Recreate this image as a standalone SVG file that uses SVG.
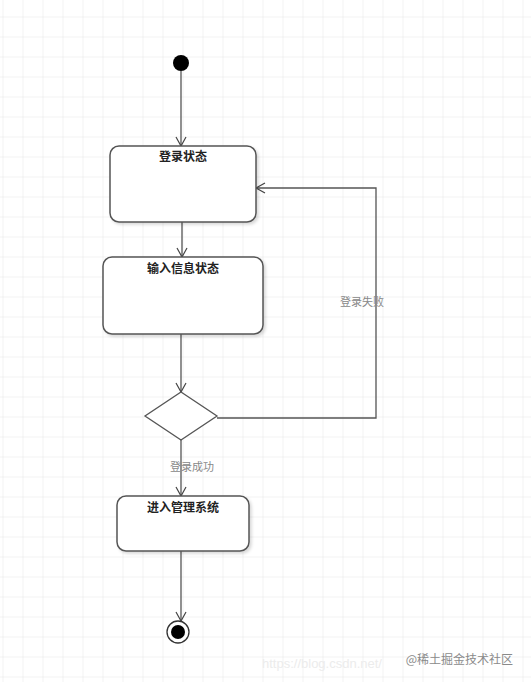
<svg xmlns="http://www.w3.org/2000/svg" width="531" height="682" viewBox="0 0 531 682">
<defs>
<pattern id="grid" x="2.5" y="16.5" width="20" height="20" patternUnits="userSpaceOnUse">
<path d="M0 0 H20 M0 0 V20" fill="none" stroke="#e6e6e6" stroke-width="1"/>
</pattern>
<filter id="sh" x="-10%" y="-10%" width="130%" height="130%">
<feDropShadow dx="2" dy="2" stdDeviation="1.5" flood-color="#000" flood-opacity="0.15"/>
</filter>
<marker id="arr" markerWidth="12" markerHeight="12" refX="10" refY="6" orient="auto" markerUnits="userSpaceOnUse">
<path d="M1 1 L10 6 L1 11" fill="none" stroke="#444" stroke-width="1.2"/>
</marker>
</defs>
<style>
.state{fill:#fff;stroke:#555;stroke-width:1.5;filter:url(#sh)}
.title{font-family:"Noto Sans CJK SC","Liberation Serif",serif;font-size:12px;font-weight:bold;fill:#222;text-anchor:middle}
.lbl{font-family:"Noto Sans CJK SC","Liberation Serif",serif;font-size:11px;fill:#888;text-anchor:middle}
.conn{fill:none;stroke:#555;stroke-width:1.3}
</style>
<rect width="531" height="682" fill="#fff"/>
<rect width="531" height="682" fill="url(#grid)"/>

<g id="connectors">
<path class="conn" d="M181 71 V146" marker-end="url(#arr)"/>
<path class="conn" d="M182 222 V257" marker-end="url(#arr)"/>
<path class="conn" d="M181 334 V392" marker-end="url(#arr)"/>
<path class="conn" d="M217 418 H376 V188 H256" marker-end="url(#arr)"/>
<path class="conn" d="M181 440 V496" marker-end="url(#arr)"/>
<path class="conn" d="M181 551 V621" marker-end="url(#arr)"/>
<text class="lbl" x="362" y="306">登录失败</text>
<text class="lbl" x="192" y="471">登录成功</text>
</g>

<g id="start">
<circle cx="181" cy="63" r="8" fill="#000"/>
</g>

<g id="login">
<rect class="state" x="110" y="146" width="146" height="76" rx="9"/>
<text class="title" x="183" y="161">登录状态</text>
</g>

<g id="input">
<rect class="state" x="103" y="257" width="160" height="77" rx="9"/>
<text class="title" x="183" y="273">输入信息状态</text>
</g>

<g id="decision">
<polygon points="181,392 217,416 181,440 145,416" fill="#fff" stroke="#555" stroke-width="1.3"/>
</g>

<g id="enter">
<rect class="state" x="117" y="496" width="132" height="55" rx="9"/>
<text class="title" x="183" y="512">进入管理系统</text>
</g>

<g id="end">
<circle cx="178" cy="632" r="11" fill="#fff" stroke="#333" stroke-width="1.3"/>
<circle cx="178" cy="632" r="7" fill="#000"/>
</g>

<g id="watermark">
<text x="262" y="668" font-family="'Liberation Sans',sans-serif" font-size="13" fill="#ececec">https://blog.csdn.net/</text>
<text x="513" y="664" text-anchor="end" font-family="'Noto Sans CJK SC',sans-serif" font-size="12" fill="#8a8a8a">@稀土掘金技术社区</text>
</g>
</svg>
